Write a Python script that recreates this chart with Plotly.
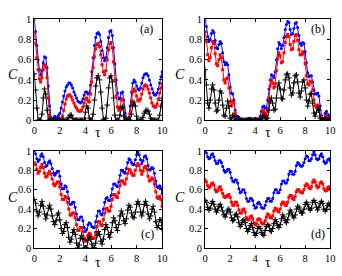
import plotly.graph_objects as go
from plotly.subplots import make_subplots

tau = [round(i * 0.1, 1) for i in range(101)]

a_blue = [1.00, 0.88, 0.74, 0.60, 0.50, 0.45, 0.49, 0.57, 0.63, 0.62,
          0.52, 0.34, 0.14, 0.03, 0.00, 0.02, 0.04, 0.02, 0.03, 0.05,
          0.07, 0.12, 0.18, 0.24, 0.29, 0.33, 0.35, 0.37, 0.37, 0.35,
          0.32, 0.28, 0.25, 0.22, 0.19, 0.18, 0.17, 0.18, 0.21, 0.25,
          0.28, 0.28, 0.26, 0.27, 0.35, 0.48, 0.62, 0.74, 0.82, 0.86,
          0.87, 0.85, 0.78, 0.69, 0.62, 0.59, 0.62, 0.72, 0.82, 0.88,
          0.89, 0.84, 0.72, 0.56, 0.40, 0.27, 0.21, 0.22, 0.27, 0.28,
          0.20, 0.07, 0.01, 0.00, 0.03, 0.14, 0.28, 0.37, 0.40, 0.38,
          0.34, 0.31, 0.30, 0.32, 0.37, 0.42, 0.45, 0.46, 0.46, 0.44,
          0.40, 0.35, 0.31, 0.27, 0.25, 0.25, 0.27, 0.31, 0.37, 0.43,
          0.48]
a_red = [0.87, 0.76, 0.62, 0.50, 0.41, 0.38, 0.42, 0.50, 0.55, 0.53,
         0.42, 0.22, 0.05, 0.00, 0.00, 0.00, 0.00, 0.00, 0.00, 0.00,
         0.00, 0.00, 0.04, 0.10, 0.16, 0.21, 0.24, 0.25, 0.25, 0.23,
         0.20, 0.17, 0.14, 0.12, 0.10, 0.09, 0.09, 0.10, 0.13, 0.17,
         0.21, 0.22, 0.19, 0.18, 0.26, 0.38, 0.52, 0.63, 0.71, 0.75,
         0.76, 0.73, 0.65, 0.55, 0.48, 0.45, 0.49, 0.60, 0.70, 0.76,
         0.77, 0.72, 0.58, 0.40, 0.24, 0.13, 0.10, 0.13, 0.20, 0.21,
         0.12, 0.02, 0.00, 0.00, 0.00, 0.07, 0.19, 0.28, 0.31, 0.29,
         0.24, 0.20, 0.19, 0.21, 0.26, 0.31, 0.34, 0.35, 0.34, 0.31,
         0.27, 0.22, 0.17, 0.14, 0.13, 0.13, 0.16, 0.21, 0.27, 0.32,
         0.36]
a_black = [0.46, 0.30, 0.12, 0.00, 0.00, 0.00, 0.06, 0.22, 0.31, 0.26,
           0.10, 0.00, 0.00, 0.00, 0.00, 0.00, 0.00, 0.00, 0.00, 0.00,
           0.00, 0.00, 0.00, 0.00, 0.00, 0.00, 0.00, 0.03, 0.05, 0.05,
           0.02, 0.00, 0.00, 0.00, 0.00, 0.00, 0.00, 0.00, 0.00, 0.00,
           0.08, 0.14, 0.12, 0.02, 0.00, 0.00, 0.06, 0.20, 0.34, 0.42,
           0.44, 0.40, 0.28, 0.12, 0.01, 0.00, 0.02, 0.15, 0.32, 0.42,
           0.44, 0.38, 0.22, 0.05, 0.00, 0.00, 0.00, 0.05, 0.12, 0.13,
           0.04, 0.00, 0.00, 0.00, 0.00, 0.00, 0.06, 0.15, 0.18, 0.14,
           0.04, 0.00, 0.00, 0.00, 0.00, 0.03, 0.07, 0.09, 0.10, 0.09,
           0.06, 0.02, 0.00, 0.00, 0.00, 0.00, 0.00, 0.00, 0.05, 0.14,
           0.22]

b_blue = [1.00, 0.93, 0.83, 0.78, 0.80, 0.86, 0.89, 0.87, 0.79, 0.72,
          0.71, 0.75, 0.78, 0.76, 0.67, 0.58, 0.55, 0.57, 0.55, 0.45,
          0.33, 0.27, 0.26, 0.20, 0.10, 0.04, 0.04, 0.03, 0.01, 0.00,
          0.00, 0.00, 0.00, 0.00, 0.01, 0.02, 0.02, 0.01, 0.00, 0.01,
          0.02, 0.01, 0.00, 0.01, 0.04, 0.09, 0.13, 0.14, 0.12, 0.12,
          0.20, 0.31, 0.40, 0.45, 0.44, 0.42, 0.48, 0.60, 0.71, 0.77,
          0.75, 0.71, 0.74, 0.82, 0.90, 0.95, 0.98, 0.97, 0.90, 0.85,
          0.86, 0.91, 0.96, 0.97, 0.92, 0.84, 0.76, 0.74, 0.77, 0.76,
          0.68, 0.57, 0.47, 0.43, 0.44, 0.44, 0.38, 0.30, 0.26, 0.26,
          0.27, 0.24, 0.14, 0.05, 0.01, 0.02, 0.07, 0.09, 0.06, 0.02,
          0.05]
b_red = [0.88, 0.78, 0.65, 0.59, 0.62, 0.72, 0.78, 0.76, 0.66, 0.56,
         0.54, 0.60, 0.65, 0.62, 0.50, 0.40, 0.37, 0.41, 0.42, 0.32,
         0.18, 0.14, 0.19, 0.17, 0.07, 0.01, 0.00, 0.00, 0.00, 0.00,
         0.00, 0.00, 0.00, 0.00, 0.00, 0.00, 0.01, 0.00, 0.00, 0.00,
         0.00, 0.00, 0.00, 0.00, 0.00, 0.03, 0.08, 0.10, 0.07, 0.04,
         0.09, 0.22, 0.34, 0.40, 0.37, 0.32, 0.36, 0.49, 0.61, 0.67,
         0.64, 0.57, 0.58, 0.67, 0.77, 0.83, 0.85, 0.83, 0.75, 0.70,
         0.71, 0.78, 0.84, 0.85, 0.79, 0.70, 0.65, 0.65, 0.68, 0.66,
         0.56, 0.44, 0.36, 0.35, 0.39, 0.38, 0.30, 0.20, 0.14, 0.14,
         0.15, 0.12, 0.04, 0.00, 0.00, 0.00, 0.03, 0.05, 0.02, 0.00,
         0.02]
b_black = [0.50, 0.35, 0.17, 0.12, 0.20, 0.31, 0.35, 0.30, 0.17, 0.09,
           0.10, 0.20, 0.29, 0.27, 0.15, 0.05, 0.04, 0.12, 0.19, 0.14,
           0.02, 0.00, 0.05, 0.04, 0.00, 0.00, 0.00, 0.00, 0.00, 0.00,
           0.00, 0.00, 0.00, 0.00, 0.00, 0.00, 0.00, 0.00, 0.00, 0.00,
           0.00, 0.00, 0.00, 0.00, 0.00, 0.00, 0.03, 0.05, 0.02, 0.00,
           0.02, 0.10, 0.19, 0.22, 0.17, 0.10, 0.11, 0.22, 0.33, 0.37,
           0.31, 0.22, 0.21, 0.30, 0.40, 0.45, 0.46, 0.42, 0.32, 0.25,
           0.27, 0.37, 0.44, 0.45, 0.38, 0.27, 0.23, 0.29, 0.38, 0.40,
           0.32, 0.20, 0.14, 0.19, 0.26, 0.26, 0.17, 0.07, 0.04, 0.08,
           0.12, 0.10, 0.02, 0.00, 0.00, 0.00, 0.01, 0.02, 0.00, 0.00,
           0.00]

c_blue = [1.00, 0.97, 0.92, 0.89, 0.91, 0.95, 0.97, 0.94, 0.88, 0.84,
          0.85, 0.88, 0.90, 0.87, 0.82, 0.77, 0.75, 0.77, 0.79, 0.79,
          0.74, 0.66, 0.61, 0.61, 0.64, 0.63, 0.58, 0.51, 0.45, 0.45,
          0.47, 0.47, 0.42, 0.35, 0.29, 0.29, 0.32, 0.32, 0.28, 0.21,
          0.17, 0.19, 0.24, 0.26, 0.25, 0.22, 0.21, 0.21, 0.27, 0.33,
          0.38, 0.38, 0.35, 0.34, 0.40, 0.47, 0.51, 0.52, 0.49, 0.49,
          0.54, 0.61, 0.66, 0.66, 0.64, 0.63, 0.68, 0.75, 0.80, 0.80,
          0.78, 0.77, 0.82, 0.88, 0.92, 0.91, 0.88, 0.86, 0.86, 0.91,
          0.96, 0.99, 0.96, 0.91, 0.87, 0.90, 0.94, 0.95, 0.92, 0.85,
          0.80, 0.81, 0.83, 0.82, 0.77, 0.69, 0.63, 0.62, 0.64, 0.62,
          0.56]
c_red = [0.88, 0.86, 0.81, 0.77, 0.79, 0.83, 0.86, 0.83, 0.77, 0.73,
         0.74, 0.77, 0.79, 0.76, 0.71, 0.66, 0.64, 0.66, 0.68, 0.68,
         0.63, 0.55, 0.50, 0.50, 0.53, 0.52, 0.47, 0.40, 0.34, 0.34,
         0.36, 0.36, 0.31, 0.24, 0.18, 0.18, 0.21, 0.21, 0.17, 0.10,
         0.07, 0.09, 0.13, 0.15, 0.14, 0.11, 0.10, 0.10, 0.16, 0.22,
         0.27, 0.27, 0.24, 0.23, 0.29, 0.36, 0.40, 0.41, 0.38, 0.38,
         0.43, 0.50, 0.55, 0.55, 0.53, 0.52, 0.57, 0.64, 0.69, 0.69,
         0.67, 0.66, 0.71, 0.77, 0.81, 0.80, 0.77, 0.75, 0.75, 0.80,
         0.85, 0.87, 0.85, 0.80, 0.76, 0.79, 0.83, 0.84, 0.81, 0.74,
         0.69, 0.70, 0.72, 0.71, 0.66, 0.58, 0.52, 0.51, 0.53, 0.50,
         0.43]
c_black = [0.50, 0.46, 0.38, 0.33, 0.37, 0.44, 0.48, 0.43, 0.35, 0.30,
           0.34, 0.41, 0.44, 0.40, 0.33, 0.27, 0.24, 0.28, 0.34, 0.36,
           0.29, 0.20, 0.15, 0.17, 0.24, 0.26, 0.21, 0.11, 0.06, 0.09,
           0.16, 0.19, 0.14, 0.05, 0.00, 0.03, 0.10, 0.13, 0.09, 0.00,
           0.00, 0.00, 0.08, 0.12, 0.09, 0.04, 0.00, 0.00, 0.05, 0.13,
           0.17, 0.14, 0.07, 0.04, 0.09, 0.19, 0.24, 0.21, 0.14, 0.11,
           0.16, 0.26, 0.31, 0.28, 0.21, 0.18, 0.24, 0.33, 0.38, 0.35,
           0.28, 0.25, 0.30, 0.39, 0.44, 0.42, 0.36, 0.32, 0.31, 0.37,
           0.45, 0.48, 0.45, 0.37, 0.33, 0.37, 0.45, 0.48, 0.44, 0.35,
           0.30, 0.33, 0.40, 0.43, 0.37, 0.27, 0.21, 0.23, 0.29, 0.29,
           0.19]

d_blue = [1.00, 0.98, 0.94, 0.92, 0.93, 0.96, 0.97, 0.94, 0.90, 0.87,
          0.87, 0.90, 0.90, 0.88, 0.84, 0.80, 0.78, 0.79, 0.81, 0.81,
          0.78, 0.72, 0.69, 0.68, 0.70, 0.70, 0.67, 0.61, 0.57, 0.58,
          0.60, 0.60, 0.57, 0.51, 0.48, 0.48, 0.51, 0.51, 0.49, 0.44,
          0.41, 0.42, 0.46, 0.47, 0.45, 0.42, 0.41, 0.41, 0.44, 0.48,
          0.51, 0.51, 0.48, 0.48, 0.51, 0.57, 0.60, 0.60, 0.57, 0.57,
          0.60, 0.66, 0.69, 0.69, 0.67, 0.67, 0.70, 0.76, 0.79, 0.79,
          0.76, 0.76, 0.79, 0.85, 0.88, 0.87, 0.85, 0.84, 0.85, 0.88,
          0.92, 0.95, 0.94, 0.90, 0.90, 0.92, 0.96, 0.99, 0.96, 0.92,
          0.91, 0.92, 0.95, 0.97, 0.94, 0.89, 0.87, 0.88, 0.91, 0.92,
          0.90]
d_red = [0.70, 0.68, 0.64, 0.62, 0.63, 0.66, 0.67, 0.65, 0.60, 0.58,
         0.59, 0.62, 0.63, 0.60, 0.56, 0.53, 0.52, 0.53, 0.54, 0.55,
         0.52, 0.47, 0.44, 0.44, 0.47, 0.47, 0.44, 0.39, 0.36, 0.36,
         0.39, 0.40, 0.37, 0.31, 0.29, 0.29, 0.32, 0.33, 0.30, 0.26,
         0.24, 0.25, 0.29, 0.30, 0.29, 0.26, 0.25, 0.25, 0.28, 0.32,
         0.35, 0.34, 0.31, 0.31, 0.33, 0.38, 0.41, 0.40, 0.38, 0.37,
         0.40, 0.45, 0.47, 0.47, 0.44, 0.44, 0.47, 0.52, 0.54, 0.54,
         0.51, 0.50, 0.53, 0.58, 0.60, 0.60, 0.58, 0.57, 0.57, 0.60,
         0.64, 0.66, 0.65, 0.62, 0.61, 0.63, 0.68, 0.70, 0.68, 0.64,
         0.62, 0.63, 0.67, 0.68, 0.66, 0.61, 0.59, 0.59, 0.62, 0.63,
         0.60]
d_black = [0.49, 0.47, 0.42, 0.39, 0.41, 0.46, 0.48, 0.45, 0.40, 0.37,
           0.39, 0.43, 0.45, 0.42, 0.38, 0.34, 0.32, 0.35, 0.39, 0.40,
           0.37, 0.31, 0.28, 0.29, 0.34, 0.35, 0.32, 0.26, 0.22, 0.24,
           0.28, 0.29, 0.26, 0.20, 0.17, 0.19, 0.23, 0.25, 0.21, 0.16,
           0.13, 0.15, 0.20, 0.22, 0.20, 0.16, 0.14, 0.13, 0.18, 0.22,
           0.24, 0.23, 0.18, 0.17, 0.20, 0.25, 0.29, 0.27, 0.23, 0.21,
           0.24, 0.30, 0.34, 0.32, 0.28, 0.26, 0.29, 0.35, 0.39, 0.37,
           0.33, 0.31, 0.34, 0.40, 0.43, 0.42, 0.38, 0.36, 0.36, 0.40,
           0.45, 0.47, 0.45, 0.41, 0.39, 0.41, 0.47, 0.49, 0.47, 0.42,
           0.39, 0.42, 0.46, 0.48, 0.46, 0.40, 0.38, 0.40, 0.44, 0.46,
           0.43]

# (label, blue, red, black, row, col, label centre x px, label centre y px,
#  C centre x px, C centre y px, tau centre y px)
panels = [
    ("(a)", a_blue, a_red, a_black, 1, 1, 147, 25, 10, 72, 133),
    ("(b)", b_blue, b_red, b_black, 1, 2, 323, 25, 181, 72, 133),
    ("(c)", c_blue, c_red, c_black, 2, 1, 148, 238, 10, 201, 268),
    ("(d)", d_blue, d_red, d_black, 2, 2, 323, 238, 181, 201, 268),
]

W, H = 342, 276
FONT = "Liberation Serif"

fig = make_subplots(rows=2, cols=2)

xdom = {1: [32 / W, 163 / W], 2: [207 / W, 335 / W]}
ydom = {1: [1 - 120 / H, 1 - 15 / H], 2: [1 - 253 / H, 1 - 152 / H]}

for p in panels:
    label, yb, yr, yk, r, c = p[:6]
    fig.add_trace(go.Scatter(x=tau, y=yb, mode="lines+markers",
                             line=dict(color="#0000ff", width=1),
                             marker=dict(symbol="circle", size=3, color="#0000ff"),
                             showlegend=False), row=r, col=c)
    fig.add_trace(go.Scatter(x=tau, y=yr, mode="lines+markers",
                             line=dict(color="#ff0000", width=1),
                             marker=dict(symbol="square", size=3, color="#ff0000"),
                             showlegend=False), row=r, col=c)
    fig.add_trace(go.Scatter(x=tau, y=yk, mode="lines+markers",
                             line=dict(color="#000000", width=1),
                             marker=dict(symbol="cross-thin", size=4,
                                         line=dict(color="#000000", width=1)),
                             showlegend=False), row=r, col=c)

axis_common = dict(showline=True, linecolor="black", linewidth=1, mirror="ticks",
                   ticks="inside", ticklen=3, tickcolor="black", showgrid=False,
                   zeroline=False, ticklabeloverflow="allow",
                   tickfont=dict(family=FONT, size=10.5, color="black"))

for r in (1, 2):
    for c in (1, 2):
        fig.update_xaxes(range=[0, 10], tickvals=[0, 2, 4, 6, 8, 10],
                         domain=xdom[c], row=r, col=c, **axis_common)
        fig.update_yaxes(range=[0, 1], tickvals=[0, 0.2, 0.4, 0.6, 0.8, 1],
                         ticktext=["0", "0.2", "0.4", "0.6", "0.8", "1"],
                         domain=ydom[r], row=r, col=c, **axis_common)

def px(x):
    return x / W

def py(y):
    return 1 - y / H

annotations = []
for p in panels:
    label, r, c = p[0], p[4], p[5]
    lx, ly, cx, cy, ty = p[6:]
    x0, x1 = xdom[c]
    common = dict(xref="paper", yref="paper", showarrow=False,
                  xanchor="center", yanchor="middle", borderpad=0)
    annotations.append(dict(text=label, x=px(lx), y=py(ly),
                            font=dict(family=FONT, size=12, color="black"), **common))
    annotations.append(dict(text="<i>C</i>", x=px(cx), y=py(cy),
                            font=dict(family=FONT, size=14, color="black"), **common))
    annotations.append(dict(text="τ", x=(x0 + x1) / 2, y=py(ty),
                            font=dict(family=FONT, size=14, color="black"), **common))

fig.update_layout(width=W, height=H, margin=dict(l=0, r=0, t=0, b=0),
                  paper_bgcolor="white", plot_bgcolor="white",
                  annotations=annotations, showlegend=False)

fig.write_html("out.html", config={"displayModeBar": False},
               post_script="document.body.style.margin='0px';"
                           "document.body.style.overflow='hidden';")
